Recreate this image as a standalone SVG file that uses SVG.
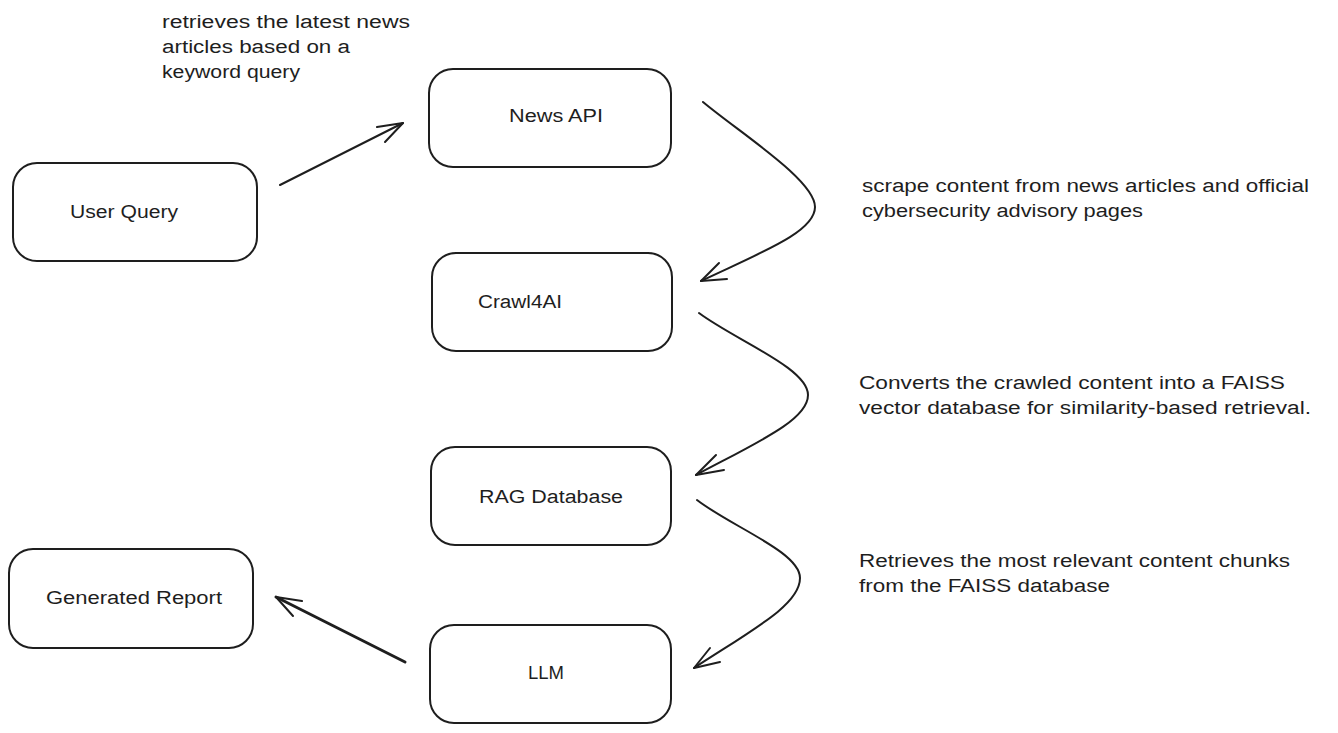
<svg xmlns="http://www.w3.org/2000/svg" width="1338" height="733" viewBox="0 0 1338 733">
<style>
  .box { fill: #ffffff; stroke: #1e1e1e; stroke-width: 2; }
  .lbl { font-family: "Liberation Sans", "DejaVu Sans", sans-serif; font-size: 18px; fill: #1e1e1e; text-anchor: middle; }
  .note { font-family: "Liberation Sans", "DejaVu Sans", sans-serif; font-size: 18px; fill: #1e1e1e; }
  .edge { fill: none; stroke: #1e1e1e; stroke-width: 2; stroke-linecap: round; stroke-linejoin: round; }
  .thick { stroke-width: 3; }
</style>
<rect x="0" y="0" width="1338" height="733" fill="#ffffff"/>

<g id="user-query">
  <rect class="box" x="13" y="163" width="244" height="98" rx="24"/>
  <text class="lbl" x="124" y="218" textLength="108" lengthAdjust="spacingAndGlyphs">User Query</text>
</g>
<g id="news-api">
  <rect class="box" x="429" y="69" width="242" height="98" rx="24"/>
  <text class="lbl" x="556" y="122" textLength="94" lengthAdjust="spacingAndGlyphs">News API</text>
</g>
<g id="crawl4ai">
  <rect class="box" x="432" y="253" width="240" height="98" rx="24"/>
  <text class="lbl" x="520" y="308" textLength="84" lengthAdjust="spacingAndGlyphs">Crawl4AI</text>
</g>
<g id="rag-database">
  <rect class="box" x="431" y="447" width="240" height="98" rx="24"/>
  <text class="lbl" x="551" y="503" textLength="144" lengthAdjust="spacingAndGlyphs">RAG Database</text>
</g>
<g id="generated-report">
  <rect class="box" x="9" y="549" width="244" height="99" rx="24"/>
  <text class="lbl" x="134" y="604" textLength="176" lengthAdjust="spacingAndGlyphs">Generated Report</text>
</g>
<g id="llm">
  <rect class="box" x="430" y="625" width="241" height="98" rx="24"/>
  <text class="lbl" x="546" y="679" textLength="36" lengthAdjust="spacingAndGlyphs">LLM</text>
</g>

<g id="notes">
  <text class="note" x="162" y="28" textLength="248" lengthAdjust="spacingAndGlyphs">retrieves the latest news</text>
  <text class="note" x="162" y="53" textLength="188" lengthAdjust="spacingAndGlyphs">articles based on a</text>
  <text class="note" x="162" y="78" textLength="138" lengthAdjust="spacingAndGlyphs">keyword query</text>

  <text class="note" x="862" y="192" textLength="447" lengthAdjust="spacingAndGlyphs">scrape content from news articles and official</text>
  <text class="note" x="862" y="217" textLength="281" lengthAdjust="spacingAndGlyphs">cybersecurity advisory pages</text>

  <text class="note" x="859" y="389" textLength="426" lengthAdjust="spacingAndGlyphs">Converts the crawled content into a FAISS</text>
  <text class="note" x="859" y="414" textLength="452" lengthAdjust="spacingAndGlyphs">vector database for similarity-based retrieval.</text>

  <text class="note" x="859" y="567" textLength="431" lengthAdjust="spacingAndGlyphs">Retrieves the most relevant content chunks</text>
  <text class="note" x="859" y="592" textLength="251" lengthAdjust="spacingAndGlyphs">from the FAISS database</text>
</g>

<g id="connectors">
  <!-- User Query -> News API -->
  <path class="edge" d="M280,185 L403,123"/>
  <path class="edge" d="M377,127 L403,123 L385,142"/>
  <!-- News API -> Crawl4AI -->
  <path class="edge" d="M703,102 C740,133 815,180 815,207 C815,232 762,252 701,281"/>
  <path class="edge" d="M719,263 L701,281 L727,279"/>
  <!-- Crawl4AI -> RAG Database -->
  <path class="edge" d="M699,313 C735,340 808,368 808,395 C808,420 758,442 696,475"/>
  <path class="edge" d="M716,455 L696,475 L724,470"/>
  <!-- RAG Database -> LLM -->
  <path class="edge" d="M697,500 C732,527 800,552 800,578 C800,605 752,630 694,668"/>
  <path class="edge" d="M710,648 L694,668 L720,662"/>
  <!-- LLM -> Generated Report -->
  <path class="edge thick" d="M405,662 L276,597"/>
  <path class="edge" d="M302,601 L276,597 L293,616"/>
</g>
</svg>
